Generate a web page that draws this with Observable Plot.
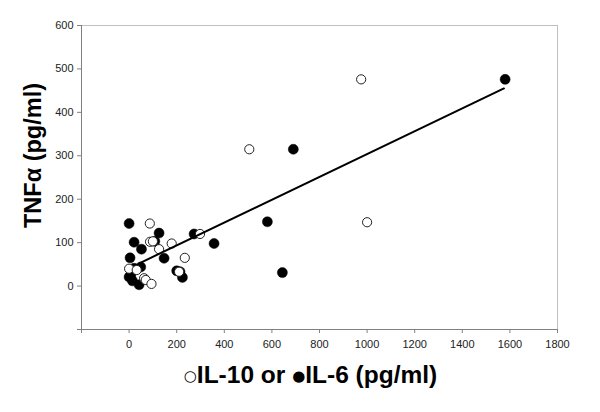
<!DOCTYPE html>
<html>
<head>
<meta charset="utf-8">
<script src="https://cdn.jsdelivr.net/npm/d3@7"></script>
<script src="https://cdn.jsdelivr.net/npm/@observablehq/plot@0.6"></script>
<style>
  html, body { margin: 0; padding: 0; background: white; }
</style>
</head>
<body>
<div id="chart"></div>
<script>
// IL-10 (open circles)
const il10X = [975, 1000, 505, 87, 298, 179, 88, 100, 126, 234, 0, 32, 63, 70, 94, 210];
const il10Y = [476, 147, 315, 144, 120, 98, 102, 103, 85, 65, 40, 37, 18, 14, 5, 33];
// IL-6 (filled circles)
const il6X = [1580, 690, 581, 644, 0, 126, 21, 108, 52, 273, 357, 147, 4, 21, 49, 200, 214, 224, 0, 14, 42, 7];
const il6Y = [476, 315, 148, 31, 144, 122, 101, 103, 85, 120, 98, 64, 65, 41, 44, 35, 33, 20, 21, 12, 3, 25];
// regression line end points
const fitX = [45, 1575];
const fitY = [53, 455];
// ticks
const xTickValues = [-200, 0, 200, 400, 600, 800, 1000, 1200, 1400, 1600, 1800];
const yTickValues = [-100, 0, 100, 200, 300, 400, 500, 600];
const yTitle = "TNFα (pg/ml)";
const xTitle = "○IL-10 or ●IL-6 (pg/ml)";

const il10 = il10X.map((x, i) => ({x, y: il10Y[i]}));
const il6 = il6X.map((x, i) => ({x, y: il6Y[i]}));
const fit = fitX.map((x, i) => ({x, y: fitY[i]}));

const chart = Plot.plot({
  width: 600,
  height: 412,
  marginLeft: 81,
  marginRight: 43,
  marginTop: 25,
  marginBottom: 83,
  style: {fontFamily: "'Liberation Sans', Arial, sans-serif", background: "white"},
  x: {domain: [-200, 1800]},
  y: {domain: [-100, 600]},
  marks: [
    Plot.ruleY([600], {stroke: "#c0c0c0"}),
    Plot.ruleX([1800], {stroke: "#c0c0c0"}),
    Plot.axisX({ticks: xTickValues, tickSize: 4, tickPadding: 7, fontSize: 11,
      tickFormat: d => d < 0 ? "" : String(d), stroke: "#808080", fill: "#222", label: null}),
    Plot.axisY({ticks: yTickValues, tickSize: 4, tickPadding: 4, fontSize: 11,
      tickFormat: d => d < 0 ? "" : String(d), stroke: "#808080", fill: "#222", label: null}),
    Plot.ruleX([-200], {stroke: "#808080"}),
    Plot.ruleY([-100], {stroke: "#808080"}),
    Plot.dot(il6, {x: "x", y: "y", r: 5, fill: "black", stroke: "black", strokeWidth: 0.5}),
    Plot.dot(il10, {x: "x", y: "y", r: 4.6, fill: "white", stroke: "#222", strokeWidth: 1}),
    Plot.line(fit, {x: "x", y: "y", stroke: "black", strokeWidth: 2}),
    Plot.text([yTitle], {frameAnchor: "left", textAnchor: "middle", lineAnchor: "middle",
      rotate: -90, dx: -48, dy: -22,
      fontSize: 23.5, fontWeight: "bold", fill: "black"}),
    Plot.text([xTitle], {frameAnchor: "bottom", textAnchor: "middle", lineAnchor: "middle",
      dx: -9, dy: 46,
      fontSize: 24.5, fontWeight: "bold", fill: "black", className: "xtitle"})
  ]
});

document.getElementById("chart").appendChild(chart);

// make the legend-like circles in the x title smaller, non-bold and raised
d3.select(chart).selectAll("g.xtitle text").each(function() {
  const t = d3.select(this);
  const s = t.text();
  t.text(null);
  const parts = s.split(/([○●])/).filter(p => p.length);
  let raised = false;
  parts.forEach(p => {
    const ts = t.append("tspan").text(p);
    if (p === "○" || p === "●") {
      ts.attr("font-size", 15).attr("font-weight", "normal")
        .attr("font-family", "'DejaVu Sans', sans-serif").attr("dy", -2);
      raised = true;
    } else if (raised) {
      ts.attr("dy", 2);
      raised = false;
    }
  });
});
</script>
</body>
</html>
